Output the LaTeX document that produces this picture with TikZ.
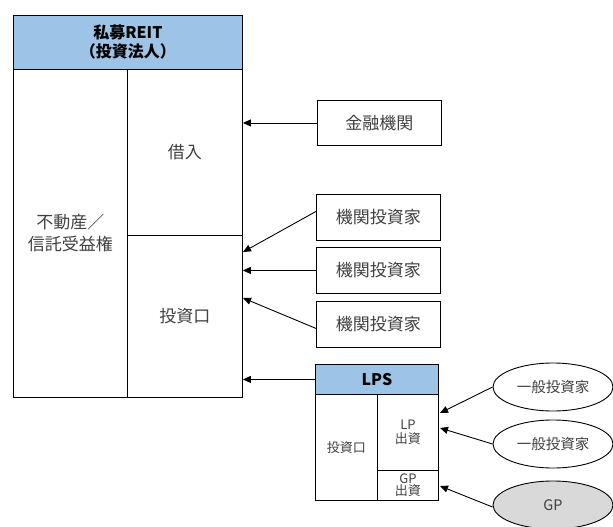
\documentclass[tikz,border=0pt]{standalone}
\usepackage{fontspec}
\setmainfont{Noto Sans CJK JP}
\usetikzlibrary{arrows.meta,shapes.geometric}
\definecolor{hdr}{HTML}{9DC3E6}
\definecolor{gpfill}{HTML}{D9D9D9}
\definecolor{txt}{HTML}{404040}
\tikzset{
  cell/.style={draw, line width=0.9pt, inner sep=0pt, anchor=north west, align=center, text=txt, font=\fontsize{17}{22}\selectfont},
  hcell/.style={cell, fill=hdr, text=black, font=\fontsize{16}{19}\selectfont\bfseries},
  scell/.style={cell, font=\fontsize{13}{14}\selectfont},
  oval/.style={draw, ellipse, line width=0.9pt, minimum width=120pt, minimum height=48pt, inner sep=0pt, text=txt, font=\fontsize{14.5}{16}\selectfont},
  arr/.style={line width=0.9pt, -{Triangle[length=8pt,width=7pt]}}
}
\begin{document}
\begin{tikzpicture}[x=1pt,y=-1pt]
\useasboundingbox (0,0) rectangle (613,527);
% REIT
\node[hcell, minimum width=229pt, minimum height=54pt] (reit) at (13,15) {私募REIT\\（投資法人）};
\node[cell, minimum width=114pt, minimum height=328pt] (asset) at (13,69) {不動産／\\信託受益権};
\node[cell, minimum width=115pt, minimum height=166pt] (kari) at (127,69) {借入};
\node[cell, minimum width=115pt, minimum height=162pt] (toushi) at (127,235) {投資口};
% lenders / investors
\node[cell, minimum width=124pt, minimum height=45pt] (fin) at (317,100) {金融機関};
\node[cell, minimum width=124pt, minimum height=46pt] (inv1) at (316,194) {機関投資家};
\node[cell, minimum width=124pt, minimum height=46pt] (inv2) at (316,247) {機関投資家};
\node[cell, minimum width=124pt, minimum height=46pt] (inv3) at (316,301) {機関投資家};
% LPS
\node[hcell, minimum width=123pt, minimum height=30pt] (lps) at (315,364) {LPS};
\node[scell, minimum width=62pt, minimum height=106pt] (lpsinv) at (315,394) {投資口};
\node[scell, minimum width=61pt, minimum height=76pt] (lp) at (377,394) {LP\\出資};
\node[scell, minimum width=61pt, minimum height=30pt, font=\fontsize{13}{11}\selectfont] (gpc) at (377,470) {GP\\出資};
% ellipses
\node[oval] (e1) at (553,387) {一般投資家};
\node[oval] (e2) at (553,444) {一般投資家};
\node[oval, fill=gpfill] (gp) at (553,505) {GP};
% arrow targets
\coordinate (t1) at (243,252);
\coordinate (t3) at (243,298);
\coordinate (l1) at (440,413);
\coordinate (l2) at (440,428);
\coordinate (g1) at (440,486);
% connectors
\draw[arr] (fin.west) -- (fin.west -| kari.east);
\draw[arr] ([yshift=6pt]inv1.west) -- (t1);
\draw[arr] (inv2.west) -- (inv2.west -| toushi.east);
\draw[arr] ([yshift=-4pt]inv3.west) -- (t3);
\draw[arr] (lps.west) -- (lps.west -| toushi.east);
\draw[arr] (e1.west) -- (l1);
\draw[arr] (e2.west) -- (l2);
\draw[arr] ([yshift=-2pt]gp.west) -- (g1);
\end{tikzpicture}
\end{document}
